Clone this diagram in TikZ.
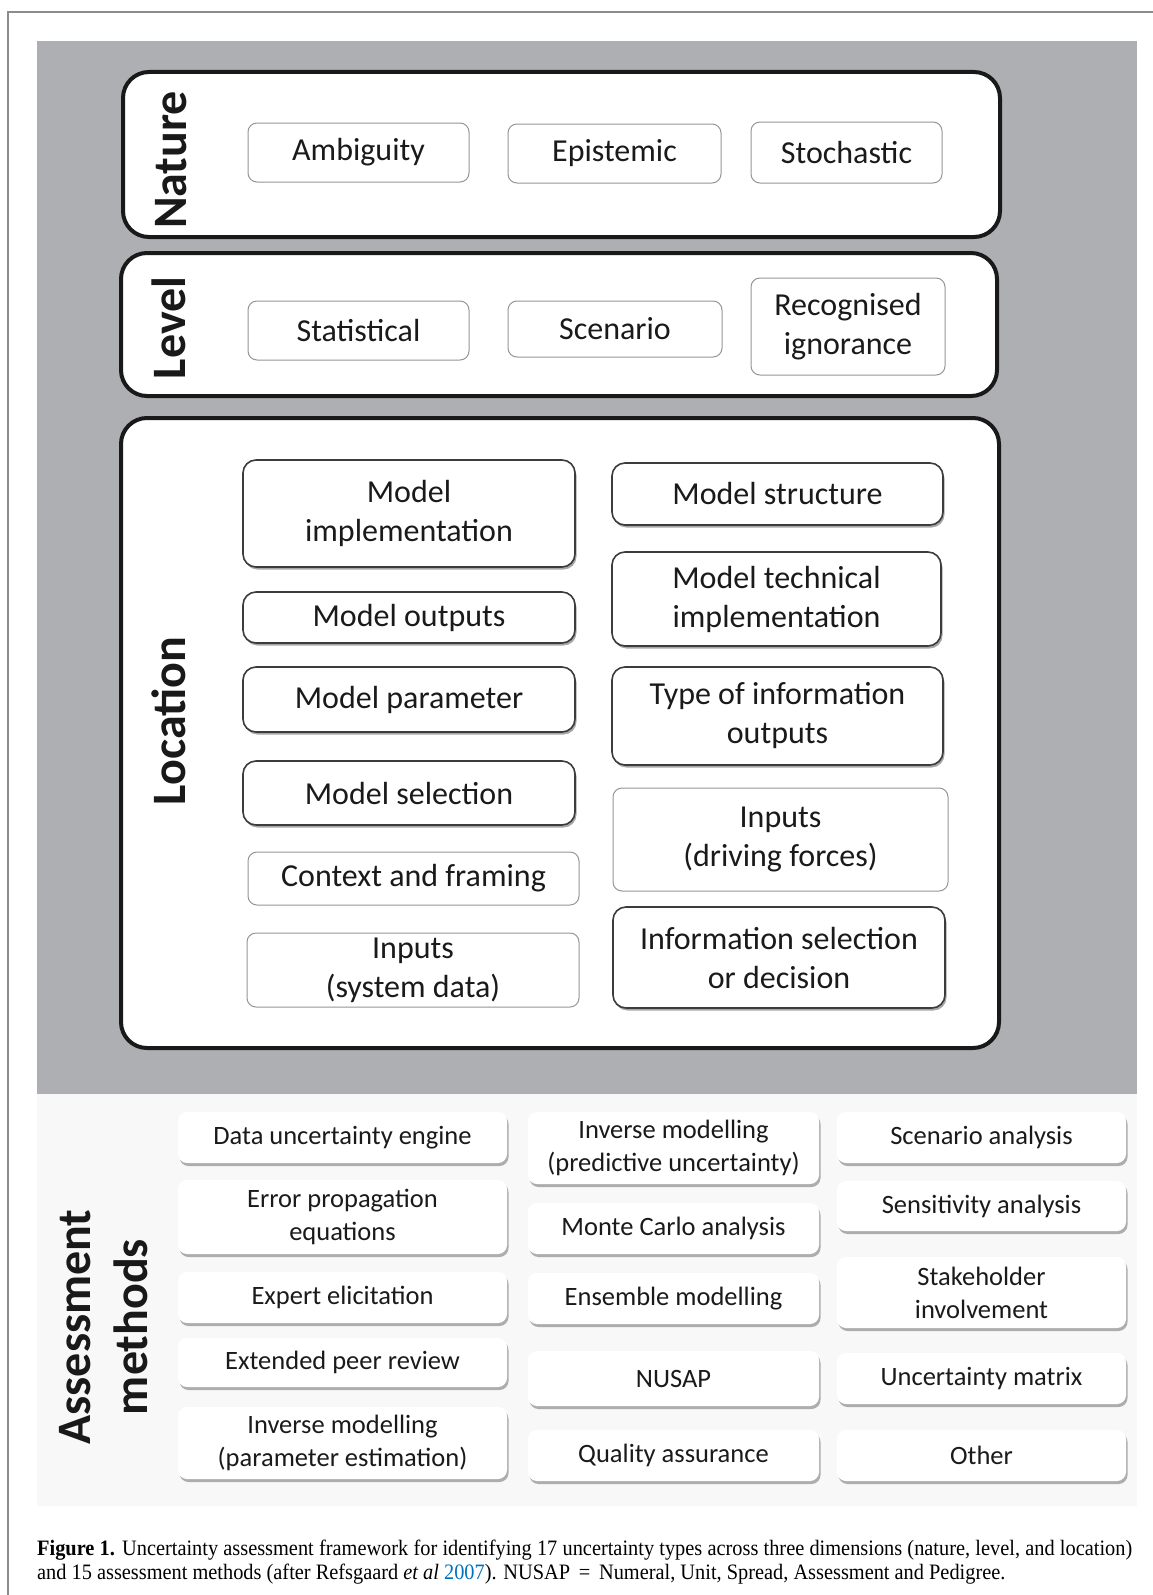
\documentclass[tikz,border=0pt]{standalone}
\usepackage{fontspec}
\setmainfont{Carlito}
\newfontfamily\capfont[FakeStretch=0.925]{Liberation Serif}
\usepackage{tikz}
\usetikzlibrary{shapes,positioning,shadows}
\usepackage{xcolor}
\definecolor{fwgrey}{RGB}{173,175,178}
\definecolor{fwframe}{RGB}{140,140,140}
\definecolor{fwtext}{RGB}{26,26,26}
\definecolor{fwedge}{RGB}{60,60,60}
\definecolor{fwlight}{RGB}{150,150,150}
\definecolor{fwpaper}{RGB}{248,248,248}
\definecolor{fwlink}{RGB}{0,112,192}
\tikzstyle{panel} = [rectangle, rounded corners=26pt, draw=black!90, line width=4pt, fill=white, inner sep=0pt]
\tikzstyle{typebox} = [rectangle, rounded corners=9pt, draw=fwlight, line width=1pt, fill=white, text=fwtext, align=center, inner sep=0pt, font=\fontsize{32}{39}\selectfont]
\tikzstyle{locbox} = [typebox, rounded corners=13pt, draw=fwedge, line width=1.6pt, drop shadow={shadow xshift=1.5pt, shadow yshift=-2.5pt, fill=black, opacity=0.35}]
\tikzstyle{methodbox} = [rectangle, rounded corners=9pt, fill=white, text=fwtext, align=center, inner sep=0pt, font=\fontsize{26.5}{33}\selectfont, drop shadow={shadow xshift=1.5pt, shadow yshift=-3pt, fill=black, opacity=0.3}]
\tikzstyle{dimlabel} = [rotate=90, align=center, text=black!90, font=\fontsize{48}{57}\selectfont\bfseries]

\begin{document}
\begin{tikzpicture}[x=1pt, y=-1pt]
\useasboundingbox (0,0) rectangle (1153,1595);
% page frame and backgrounds
\draw[fwframe, line width=1.5pt] (8,1595) -- (8,12) -- (1153,12);
\fill[fwgrey] (37,41) rectangle (1137,1094);
\fill[fwpaper] (37,1094) rectangle (1137,1506);

% Nature
\node (nature) [panel, minimum width=877pt, minimum height=165pt] at (561.5,154.5) {};
\node (naturelbl) [dimlabel] at (171,160) {Nature};
\node (ambig) [typebox, minimum width=221pt, minimum height=59pt] at (358.5,152.5) {Ambiguity};
\node (epist) [typebox, minimum width=213pt, minimum height=59pt] at (614.5,153.5) {Epistemic};
\node (stoch) [typebox, minimum width=191pt, minimum height=61pt] at (846.5,152.5) {Stochastic};

% Level
\node (level) [panel, minimum width=876pt, minimum height=143pt] at (559,324.5) {};
\node (levellbl) [dimlabel] at (169,328) {Level};
\node (statist) [typebox, minimum width=221pt, minimum height=59pt] at (358.5,330.5) {Statistical};
\node (scen) [typebox, minimum width=214pt, minimum height=56pt] at (615,329) {Scenario};
\node (ignor) [typebox, minimum width=194pt, minimum height=97pt] at (848,326.5) {Recognised\\ignorance};

% Location
\node (location) [panel, minimum width=878pt, minimum height=630pt] at (560,733) {};
\node (locationlbl) [dimlabel] at (169,721) {Location};
\node (mimpl) [locbox, minimum width=332pt, minimum height=107pt] at (409,513.5) {Model\\implementation};
\node (mout) [locbox, minimum width=332pt, minimum height=51pt] at (409,617.5) {Model outputs};
\node (mpar) [locbox, minimum width=332pt, minimum height=65pt] at (409,699.5) {Model parameter};
\node (msel) [locbox, minimum width=332pt, minimum height=64pt] at (409,793) {Model selection};
\node (context) [typebox, minimum width=331pt, minimum height=53pt] at (413.5,878.5) {Context and framing};
\node (insys) [typebox, minimum width=332pt, minimum height=74pt] at (413,970) {Inputs\\(system data)};
\node (mstruct) [locbox, minimum width=331pt, minimum height=62pt] at (777.5,494) {Model structure};
\node (mtech) [locbox, minimum width=329pt, minimum height=94pt] at (776.5,599) {Model technical\\implementation};
\node (infout) [locbox, minimum width=331pt, minimum height=98pt] at (777.5,716) {Type of information\\outputs};
\node (indrive) [typebox, minimum width=335pt, minimum height=103pt] at (780.5,839.5) {Inputs\\(driving forces)};
\node (infsel) [locbox, minimum width=332pt, minimum height=101pt] at (779,957.5) {Information selection\\or decision};

% Assessment methods
\node (methodslbl) [dimlabel] at (104,1327) {Assessment\\methods};
\node (dataeng) [methodbox, minimum width=329pt, minimum height=51pt] at (342.5,1137.5) {Data uncertainty engine};
\node (errprop) [methodbox, minimum width=329pt, minimum height=74pt] at (342.5,1217) {Error propagation\\equations};
\node (expert) [methodbox, minimum width=329pt, minimum height=51pt] at (342.5,1297.5) {Expert elicitation};
\node (peer) [methodbox, minimum width=329pt, minimum height=49pt] at (342.5,1362.5) {Extended peer review};
\node (invpar) [methodbox, minimum width=329pt, minimum height=72pt] at (342.5,1443) {Inverse modelling\\(parameter estimation)};
\node (invpred) [methodbox, minimum width=291pt, minimum height=72pt] at (673.5,1148) {Inverse modelling\\(predictive uncertainty)};
\node (monte) [methodbox, minimum width=291pt, minimum height=51pt] at (673.5,1228.5) {Monte Carlo analysis};
\node (ensemble) [methodbox, minimum width=291pt, minimum height=51pt] at (673.5,1298.5) {Ensemble modelling};
\node (nusap) [methodbox, minimum width=291pt, minimum height=55pt] at (673.5,1378.5) {NUSAP};
\node (quality) [methodbox, minimum width=291pt, minimum height=51pt] at (673.5,1455.5) {Quality assurance};
\node (scenan) [methodbox, minimum width=289pt, minimum height=51pt] at (981.5,1137.5) {Scenario analysis};
\node (sensan) [methodbox, minimum width=289pt, minimum height=50pt] at (981.5,1206) {Sensitivity analysis};
\node (stake) [methodbox, minimum width=289pt, minimum height=71pt] at (981.5,1292.5) {Stakeholder\\involvement};
\node (umatrix) [methodbox, minimum width=289pt, minimum height=51pt] at (981.5,1378.5) {Uncertainty matrix};
\node (other) [methodbox, minimum width=289pt, minimum height=51pt] at (981.5,1455.5) {Other};

% caption
\node (captop) [anchor=base west, inner sep=0pt, font=\capfont\fontsize{22}{24.4}\selectfont] at (37,1555) {\makebox[1095pt][s]{\textbf{Figure 1.} Uncertainty assessment framework for identifying 17 uncertainty types across three dimensions (nature, level, and location)}};
\node (capbot) [anchor=base west, inner sep=0pt, font=\capfont\fontsize{22}{24.4}\selectfont] at (37,1579) {and 15 assessment methods (after Refsgaard \textit{et al} \textcolor{fwlink}{2007}). NUSAP \,=\, Numeral, Unit, Spread, Assessment and Pedigree.};
\end{tikzpicture}
\end{document}
